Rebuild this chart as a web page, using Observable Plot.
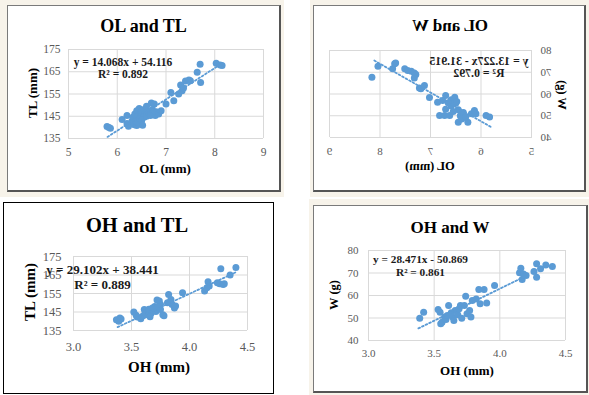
<!DOCTYPE html>
<html><head><meta charset="utf-8">
<script src="https://cdn.jsdelivr.net/npm/d3@7"></script>
<script src="https://cdn.jsdelivr.net/npm/@observablehq/plot@0.6"></script>
<style>
html,body{margin:0;padding:0;background:#fff;}
#page{position:relative;width:589px;height:395px;overflow:hidden;font-family:"Liberation Serif","Times New Roman",serif;}
.layer{position:absolute;left:0;top:0;width:589px;height:395px;}
.bg{position:absolute;background:#f7f3ea;}
.box{position:absolute;box-sizing:border-box;background:#fff;}
.t{position:absolute;white-space:nowrap;transform:translate(-50%,-50%);font-weight:bold;color:#000;line-height:1;}
.layer svg{position:absolute;left:0;top:0;}
</style></head><body><div id="page"></div><script>
// ---------- data ----------
const olTl = [[5.79,140.4],[5.83,140],[5.86,139.6],[6.1,143.5],[6.2,145.3],[6.2,141.7],[6.23,140.5],[6.3,142.8],[6.32,144.5],[6.35,141.2],[6.36,146],[6.38,143],[6.4,147.5],[6.4,140.8],[6.42,145],[6.43,142],[6.45,148.5],[6.45,141.5],[6.47,144],[6.48,146.5],[6.5,143],[6.5,145.5],[6.5,147.5],[6.52,141],[6.55,148],[6.55,144.5],[6.57,146],[6.6,149.5],[6.6,145],[6.62,147],[6.65,146.5],[6.68,145.3],[6.7,151],[6.72,148],[6.76,150.5],[6.78,145.3],[6.8,147],[6.85,146],[6.9,147.5],[7.0,150.5],[7.1,155.7],[7.16,152],[7.26,155],[7.3,159],[7.33,156.5],[7.36,157.7],[7.4,160.8],[7.47,161.3],[7.5,161],[7.64,164.8],[7.7,168.4],[7.71,160.2],[8.03,168.8],[8.11,168],[8.15,167.8]];
const olW = [[8.16,67.7],[8.04,72.8],[7.75,71.6],[7.71,73.9],[7.69,74.2],[7.51,71.6],[7.45,70.8],[7.38,70.5],[7.32,69.6],[7.29,69],[7.32,67.4],[7.22,62.8],[7.19,62.4],[7.12,63.9],[7.02,58.4],[6.86,56.2],[6.76,57],[6.7,59.3],[6.59,57.3],[6.52,58.5],[6.5,55.8],[6.59,54.5],[6.45,52.8],[6.41,50],[6.35,51.5],[6.45,47],[6.26,47],[6.19,50.9],[6.13,52.4],[6.1,50.9],[5.9,50.1],[5.83,49.4],[6.82,50.1],[6.72,50.1],[6.62,50.1],[6.55,52],[6.6,55.5],[6.38,48.5],[6.3,49.5],[6.65,56],[6.48,56.5],[6.7,53]];
const ohTl = [[3.37,140.8],[3.39,140],[3.4,141.7],[3.41,141.2],[3.52,145],[3.54,143.2],[3.55,142.3],[3.58,141.4],[3.61,146.3],[3.64,143.5],[3.67,144.4],[3.7,148],[3.71,145.3],[3.74,150.9],[3.75,149.1],[3.75,146.4],[3.77,143.5],[3.78,143],[3.81,150],[3.82,154.5],[3.84,151.8],[3.85,149],[3.87,147.2],[3.88,148.2],[3.94,155.4],[3.62,144.5],[3.65,146.5],[3.68,147.2],[3.72,151.5],[3.73,147.8],[3.66,142.5],[3.6,143],[4.13,156.3],[4.15,158.1],[4.16,161.3],[4.17,159],[4.24,160.8],[4.26,160.3],[4.27,168.4],[4.29,159.9],[4.3,160.3],[4.35,165],[4.4,169]];
const ohW = [[3.39,49.9],[3.42,52.6],[3.53,53.8],[3.545,52.6],[3.55,47.4],[3.56,48.1],[3.58,50.4],[3.59,49.3],[3.61,55.6],[3.64,50.4],[3.65,48.9],[3.66,53.3],[3.68,51.4],[3.7,55.6],[3.71,49.9],[3.73,55.6],[3.74,59.7],[3.75,51.9],[3.77,53.3],[3.78,50.4],[3.79,57.8],[3.82,58.5],[3.84,62.7],[3.85,56.3],[3.88,62.7],[3.9,56.7],[3.96,64.4],[3.6,51.1],[3.69,54.1],[3.63,52.3],[4.15,70.1],[4.16,72.1],[4.17,67.1],[4.18,69.6],[4.2,68.9],[4.26,70.7],[4.28,68.1],[4.28,74.1],[4.31,71.9],[4.35,73.6],[4.4,72.9]];
// trendlines (equation from the chart) and their x extents
const trendOlTl = {slope:14.068, intercept:54.116, x:[5.8, 8.12]};
const trendOlW  = {slope:13.227, intercept:-31.915, x:[5.81, 8.12]};
const trendOhTl = {slope:29.102, intercept:38.441, x:[3.38, 4.4]};
const trendOhW  = {slope:28.471, intercept:-50.869, x:[3.38, 4.18]};
const olTicks = [5,6,7,8,9];
const ohTicks = [3.0,3.5,4.0,4.5];
const tlTicks = [135,145,155,165,175];
const wTicks = [40,50,60,70,80];
const titles = ["OL and TL","OL and W","OH and TL","OH and W"];
const eqs = [["y = 14.068x + 54.116","R² = 0.892"],["y = 13.227x - 31.915","R² = 0.792"],["y = 29.102x + 38.441","R² = 0.889"],["y = 28.471x - 50.869","R² = 0.861"]];
const xLabels = ["OL (mm)","OL (mm)","OH (mm)","OH (mm)"];
const yLabels = ["TL (mm)","W (g)","TL (mm)","W (g)"];

// ---------- layout ----------
const BLUE = "#5b9bd5";
const panels = [
  {pts:olTl, trend:trendOlTl, xT:olTicks, yT:tlTicks, xf:d3.format("d"),
   area:[68,263,49,138], xPad:9, yPad:8, tick:11.5,
   bg:[0,0,284,197], box:[7,5,274,187], border:"1px solid #7a7a7a", br:"2px solid #555", bb:"2px solid #555",
   title:[143.5,26,18], xl:[165,168,13], yl:[32,93,13], eq:[123,62.5,74.5,11.5]},
  {pts:olW, trend:trendOlW, xT:olTicks, yT:wTicks, xf:d3.format("d"), mirror:899,
   area:[367,569,50,137], xPad:10, yPad:9, tick:11,
   bg:[310,0,279,197], box:[313,5,273,187], border:"1px solid #7a7a7a", bl:"2px solid #555", bb:"2px solid #555",
   title:[449,25,17], xl:[469,166,12.5], yl:[337,95,12.5], eq:[420,61.5,74,11.8]},
  {pts:ohTl, trend:trendOhTl, xT:ohTicks, yT:tlTicks, xf:d3.format(".1f"),
   area:[73,247,256,330], xPad:12, yPad:12, tick:12.5,
   bg:null, box:[3,202,271,192], border:"1px solid #000",
   title:[137,225,20.5], xl:[159,367,15], yl:[30,292,15], eq:[102.5,269,284,13]},
  {pts:ohW, trend:trendOhW, xT:ohTicks, yT:wTicks, xf:d3.format(".1f"),
   area:[368,565,250,340], xPad:9, yPad:10, tick:11,
   bg:[309,199,280,196], box:[313,205,275,188], border:"1px solid #7a7a7a", br:"2px solid #555", bb:"2px solid #555",
   title:[450,227,17], xl:[467,370,13], yl:[334,295,12.5], eq:[420.5,260,272.5,11.3]}
];

const page = document.getElementById("page");
function txt(layer, s, x, y, size, opts={}) {
  const d = document.createElement("div");
  d.className = "t";
  d.textContent = s;
  d.style.left = x + "px"; d.style.top = y + "px"; d.style.fontSize = size + "px";
  if (opts.rotate) d.style.transform = "translate(-50%,-50%) rotate(-90deg)";
  if (opts.color) d.style.color = opts.color;
  layer.appendChild(d);
}
panels.forEach((p, i) => {
  if (p.bg) {
    const b = document.createElement("div"); b.className = "bg";
    Object.assign(b.style, {left:p.bg[0]+"px", top:p.bg[1]+"px", width:p.bg[2]+"px", height:p.bg[3]+"px"});
    page.appendChild(b);
  }
  const layer = document.createElement("div"); layer.className = "layer";
  if (p.mirror) { layer.style.transformOrigin = (p.mirror/2) + "px 0px"; layer.style.transform = "scaleX(-1)"; }
  page.appendChild(layer);
  const box = document.createElement("div"); box.className = "box";
  Object.assign(box.style, {left:p.box[0]+"px", top:p.box[1]+"px", width:p.box[2]+"px", height:p.box[3]+"px", border:p.border});
  if (p.br) box.style.borderRight = p.br;
  if (p.bl) box.style.borderLeft = p.bl;
  if (p.bb) box.style.borderBottom = p.bb;
  layer.appendChild(box);
  const [L,R,T,B] = p.area;
  const t = p.trend;
  const trendPts = t.x.map(x => [x, t.slope*x + t.intercept]);
  const svg = Plot.plot({
    width:589, height:395,
    marginLeft:L, marginRight:589-R, marginTop:T, marginBottom:395-B,
    x:{domain:[p.xT[0], p.xT[p.xT.length-1]], ticks:p.xT, tickSize:0, tickPadding:p.xPad, tickFormat:p.xf, label:null},
    y:{domain:[p.yT[0], p.yT[p.yT.length-1]], ticks:p.yT, tickSize:0, tickPadding:p.yPad, label:null},
    style:{background:"transparent", fontFamily:"'Liberation Serif','Times New Roman',serif", fontSize:p.tick+"px", color:"#595959", overflow:"visible"},
    marks:[
      Plot.ruleX(p.xT, {stroke:"#d9d9d9", strokeWidth:1}),
      Plot.ruleY(p.yT, {stroke:"#d9d9d9", strokeWidth:1}),
      Plot.dot(p.pts, {x:d=>d[0], y:d=>d[1], r:3.5, fill:BLUE, stroke:"none"}),
      Plot.line(trendPts, {x:d=>d[0], y:d=>d[1], stroke:BLUE, strokeWidth:1.8, strokeDasharray:"1.8,2.2"})
    ]
  });
  layer.appendChild(svg);
  txt(layer, titles[i], p.title[0], p.title[1], p.title[2]);
  txt(layer, xLabels[i], p.xl[0], p.xl[1], p.xl[2]);
  txt(layer, yLabels[i], p.yl[0], p.yl[1], p.yl[2], {rotate:true});
  txt(layer, eqs[i][0], p.eq[0], p.eq[1], p.eq[3], {color:"#1a1a1a"});
  txt(layer, eqs[i][1], p.eq[0], p.eq[2], p.eq[3], {color:"#1a1a1a"});
});
</script></body></html>
